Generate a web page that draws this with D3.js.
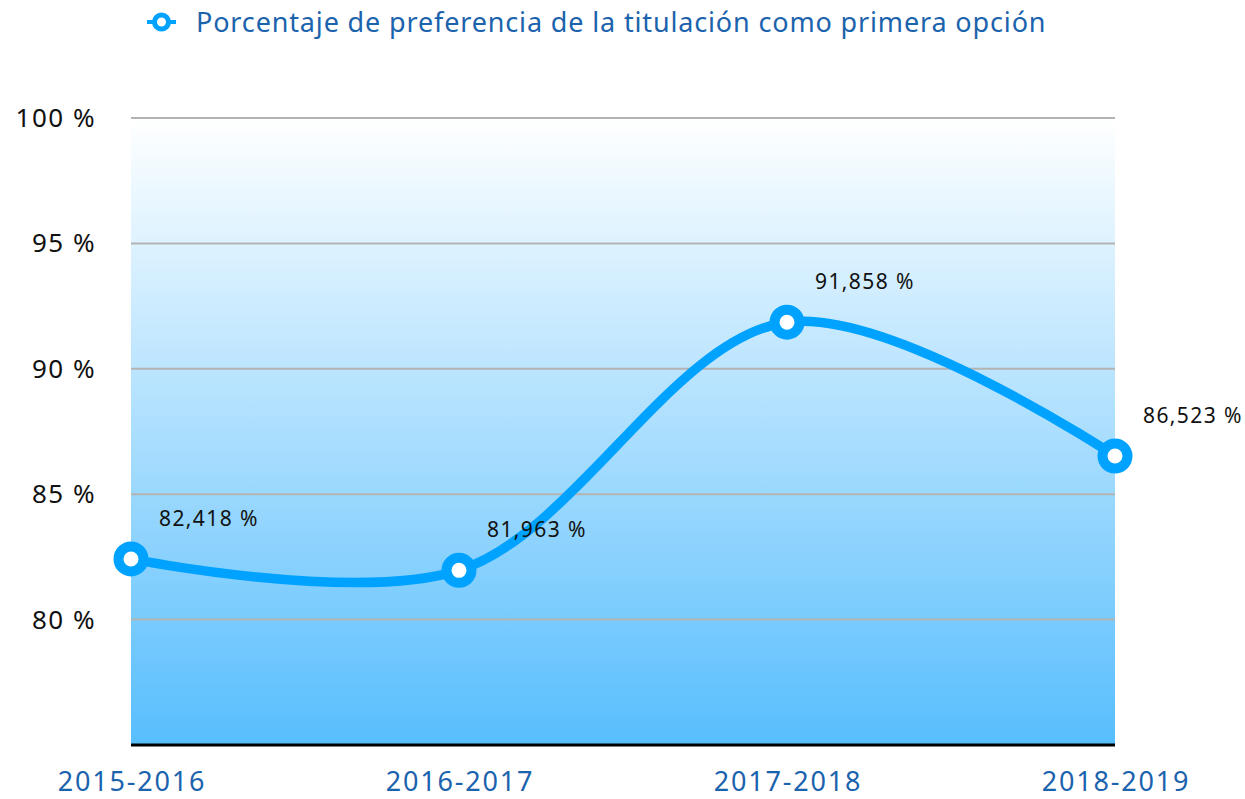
<!DOCTYPE html>
<html>
<head>
<meta charset="utf-8">
<script src="https://cdn.jsdelivr.net/npm/d3@7"></script>
<style>
  body { margin: 0; background: #fff; }
  text { font-family: "Noto Sans", sans-serif; }
</style>
</head>
<body>
<svg width="1245" height="799"></svg>
<script>
const CATEGORIES = ['2015-2016', '2016-2017', '2017-2018', '2018-2019'];
const VALUES = [82.418, 81.963, 91.858, 86.523];
const Y_TICKS = [80, 85, 90, 95, 100];
const SERIES_NAME = 'Porcentaje de preferencia de la titulación como primera opción';

const data = CATEGORIES.map((c, i) => ({ cat: c, value: VALUES[i] }));

const svg = d3.select('svg');
const plotLeft = 131, plotRight = 1115, plotTop = 118, plotBottom = 745;

const xScale = d3.scalePoint().domain(CATEGORIES).range([plotLeft, plotRight]);
const yScale = d3.scaleLinear().domain([75, 100]).range([plotBottom, plotTop]);

// background gradient
const defs = svg.append('defs');
const grad = defs.append('linearGradient').attr('id', 'bg').attr('x1', 0).attr('y1', 0).attr('x2', 0).attr('y2', 1);
grad.append('stop').attr('offset', '0%').attr('stop-color', '#ffffff');
grad.append('stop').attr('offset', '100%').attr('stop-color', '#57befd');

svg.append('rect')
    .attr('x', plotLeft).attr('y', plotTop)
    .attr('width', plotRight - plotLeft).attr('height', plotBottom - plotTop)
    .attr('fill', 'url(#bg)');

// grid lines
svg.selectAll('.grid')
    .data(Y_TICKS)
    .enter()
    .append('line')
    .attr('x1', plotLeft).attr('x2', plotRight)
    .attr('y1', d => yScale(d)).attr('y2', d => yScale(d))
    .attr('stroke', '#b3b3b3').attr('stroke-width', 2);

// baseline
svg.append('line')
    .attr('x1', plotLeft).attr('x2', plotRight)
    .attr('y1', plotBottom).attr('y2', plotBottom)
    .attr('stroke', '#000').attr('stroke-width', 3);

// y labels
svg.selectAll('.ylab')
    .data(Y_TICKS)
    .enter()
    .append('text')
    .attr('x', 96)
    .attr('y', d => yScale(d) + 9)
    .attr('text-anchor', 'end')
    .attr('font-size', 26)
    .attr('letter-spacing', 1.5)
    .attr('fill', '#111')
    .text(d => d + ' %');

// x labels
svg.selectAll('.xlab')
    .data(CATEGORIES)
    .enter()
    .append('text')
    .attr('x', d => xScale(d) + 1)
    .attr('y', 791)
    .attr('text-anchor', 'middle')
    .attr('font-size', 27)
    .attr('letter-spacing', 1.8)
    .attr('fill', '#1c63ad')
    .text(d => d);

// line
const line = d3.line()
    .x(d => xScale(d.cat))
    .y(d => yScale(d.value))
    .curve(d3.curveCatmullRom);

svg.append('path')
    .datum(data)
    .attr('d', line)
    .attr('fill', 'none')
    .attr('stroke', '#00a2ff')
    .attr('stroke-width', 9.5);

svg.selectAll('.pt')
    .data(data)
    .enter()
    .append('circle')
    .attr('cx', d => xScale(d.cat))
    .attr('cy', d => yScale(d.value))
    .attr('r', 12.5)
    .attr('fill', '#fff')
    .attr('stroke', '#00a2ff')
    .attr('stroke-width', 10);

// value labels
svg.selectAll('.vlab')
    .data(data)
    .enter()
    .append('text')
    .attr('x', d => xScale(d.cat) + 28)
    .attr('y', d => yScale(d.value) - 33)
    .attr('font-size', 21)
    .attr('letter-spacing', 1.4)
    .attr('fill', '#111')
    .text(d => d3.format('.3f')(d.value).replace('.', ',') + ' %');

// legend
const lg = svg.append('g');
lg.append('line').attr('x1', 147).attr('x2', 176).attr('y1', 22).attr('y2', 22)
    .attr('stroke', '#00a2ff').attr('stroke-width', 4);
lg.append('circle').attr('cx', 161.5).attr('cy', 22).attr('r', 7)
    .attr('fill', '#fff').attr('stroke', '#00a2ff').attr('stroke-width', 5);
lg.append('text')
    .attr('x', 196).attr('y', 32)
    .attr('font-size', 27)
    .attr('letter-spacing', 0.85)
    .attr('fill', '#1c63ad')
    .text(SERIES_NAME);
</script>
</body>
</html>
